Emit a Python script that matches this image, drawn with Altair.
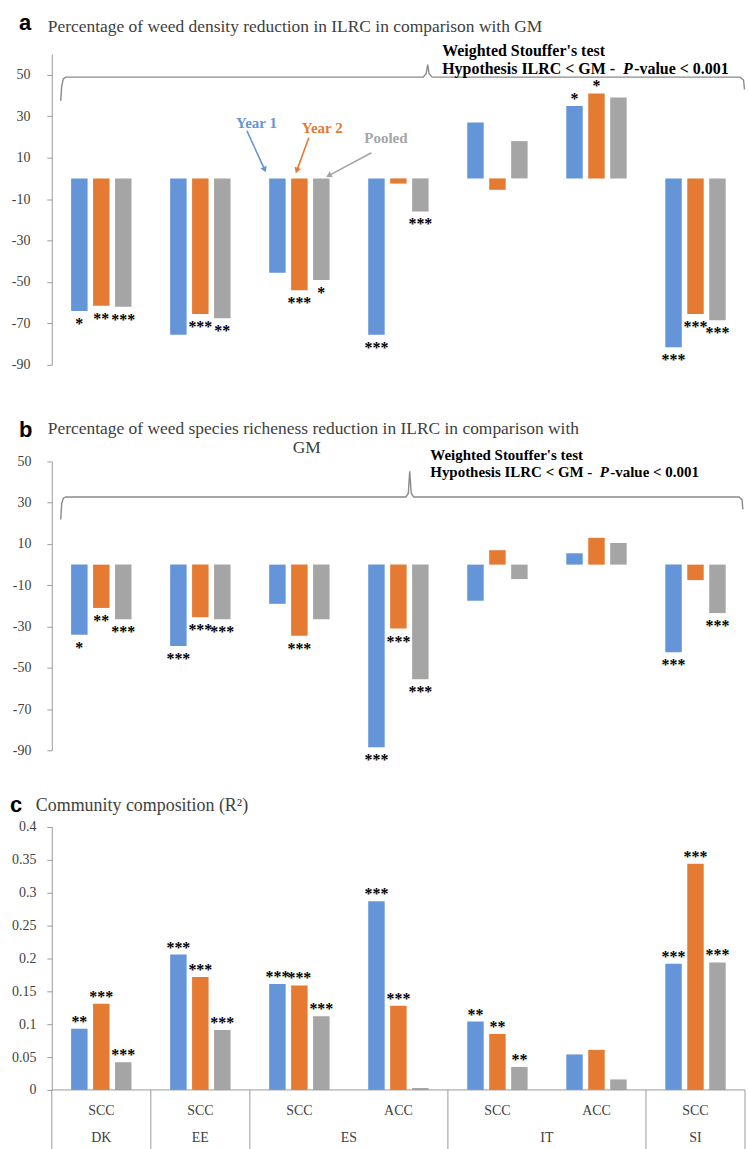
import math

import altair as alt
import pandas as pd

# ---------------------------------------------------------------- categories
countries = ["DK", "EE", "ES", "ES", "IT", "IT", "SI"]
crops = ["SCC", "SCC", "SCC", "ACC", "SCC", "ACC", "SCC"]
series = ["Year 1", "Year 2", "Pooled"]
series_colors = ["#6495D8", "#E57A33", "#A5A5A5"]

# ------------------------------------- a: weed density reduction (%) vs GM
density_year1 = [-64.0, -75.5, -45.5, -75.5, 27.0, 35.0, -81.5]
density_year2 = [-61.5, -65.5, -54.0, -2.5, -5.5, 41.0, -65.5]
density_pooled = [-62.0, -67.5, -49.0, -16.0, 18.0, 39.0, -68.5]
density_sig_year1 = ["*", "", "", "***", "", "*", "***"]
density_sig_year2 = ["**", "***", "***", "", "", "*", "***"]
density_sig_pooled = ["***", "**", "*", "***", "", "", "***"]

# ---------------------------- b: weed species richness reduction (%) vs GM
richness_year1 = [-34.0, -39.5, -19.0, -88.5, -17.5, 5.5, -42.5]
richness_year2 = [-21.0, -25.5, -34.5, -31.0, 7.0, 13.0, -7.5]
richness_pooled = [-26.5, -26.5, -26.5, -55.5, -7.0, 10.5, -23.5]
richness_sig_year1 = ["*", "***", "", "***", "", "", "***"]
richness_sig_year2 = ["**", "***", "***", "***", "", "", ""]
richness_sig_pooled = ["***", "***", "", "***", "", "", "***"]

# ------------------------------------------ c: community composition (R2)
composition_year1 = [0.093, 0.206, 0.161, 0.287, 0.104, 0.054, 0.192]
composition_year2 = [0.131, 0.172, 0.159, 0.128, 0.085, 0.061, 0.344]
composition_pooled = [0.042, 0.091, 0.112, 0.003, 0.035, 0.016, 0.194]
composition_sig_year1 = ["**", "***", "***", "***", "**", "", "***"]
composition_sig_year2 = ["***", "***", "***", "***", "**", "", "***"]
composition_sig_pooled = ["***", "***", "***", "", "**", "", "***"]

# axis ticks
pct_ticks = [50, 30, 10, -10, -30, -50, -70, -90]
r2_ticks = [0, 0.05, 0.1, 0.15, 0.2, 0.25, 0.3, 0.35, 0.4]

# brace outlines, in (category units, value units)
brace_a_u = [0.09, 0.10, 0.116, 0.14, 3.75, 3.78, 3.796, 3.81, 3.84, 6.95, 6.985, 6.995]
brace_a_y = [37.4, 44.6, 48.0, 48.9, 48.9, 50.5, 54.9, 50.5, 48.9, 48.9, 47.5, 43.0]
brace_b_u = [0.09, 0.10, 0.116, 0.14, 3.575, 3.60, 3.614, 3.63, 3.655, 6.94, 6.97, 6.978]
brace_b_y = [21.9, 29.5, 32.2, 32.8, 32.8, 34.5, 45.2, 34.5, 32.8, 32.8, 31.5, 26.8]

# "Year 1 / Year 2 / Pooled" call-outs in panel a
callout_text = ["Year 1", "Year 2", "Pooled"]
callout_colors = ["#4169B0", "#E0783A", "#808080"]
callout_u = [2.067, 2.731, 3.374]
callout_y = [26.8, 24.4, 19.6]
arrow_u1 = [1.97, 2.595, 3.228]
arrow_y1 = [23.0, 19.6, 12.4]
arrow_u2 = [2.15, 2.474, 2.796]
arrow_y2 = [4.2, 3.75, 1.35]

# ------------------------------------------------------------------ styling
SERIF = "Liberation Serif"
SANS = "Liberation Sans"
AXIS_GREY = "#9a9a9a"
TEXT_GREY = "#404040"
TITLE_SIZE = 17.5
W = 696                      # plot width shared by the three panels
N = len(countries)
PX_PER_UNIT = W / N

keys = [f"{c} {k}" for c, k in zip(countries, crops)]


def long_table(vals, sigs):
    rows = []
    for name, v_list, s_list in zip(series, vals, sigs):
        for key, crop, v, s in zip(keys, crops, v_list, s_list):
            rows.append({"key": key, "crop": crop, "series": name, "value": v, "sig": s})
    return pd.DataFrame(rows)


def x_band():
    return alt.X("key:N", sort=keys,
                 scale=alt.Scale(domain=keys, paddingInner=0, paddingOuter=0), axis=None)


def x_offset():
    return alt.XOffset("series:N", sort=series,
                       scale=alt.Scale(domain=series, paddingInner=0.25, paddingOuter=0.88))


def x_units(field="u"):
    return alt.X(f"{field}:Q", scale=alt.Scale(domain=[0, N], nice=False, zero=False), axis=None)


def y_scale(domain, plot_h):
    return alt.Scale(domain=domain, range=[plot_h, 0], nice=False, zero=False)


def text_at(text, x, y, **style):
    return alt.Chart(pd.DataFrame({"t": [text]})).mark_text(**style).encode(
        x=alt.value(x), y=alt.value(y), text="t:N")


def stouffer_note(x, y_top, y_bottom, size):
    """Two bold lines with an italic P, placed piece by piece."""
    bold = dict(font=SERIF, fontSize=size, fontWeight="bold", align="left", color="black")
    w_hyp = 11.348 * size          # "Hypothesis ILRC < GM -  " in em of Times-like bold
    w_p = 0.667 * size
    return [
        text_at("Weighted Stouffer's test", x, y_top, **bold),
        text_at("Hypothesis ILRC < GM -", x, y_bottom, **bold),
        text_at("P", x + w_hyp, y_bottom, fontStyle="italic", **bold),
        text_at("-value < 0.001", x + w_hyp + w_p + 0.5, y_bottom, **bold),
    ]


def bar_panel(table, domain, plot_h, ticks, label_expr, label_pad):
    ys = y_scale(domain, plot_h)
    base = alt.Chart(table)
    bars = base.mark_bar().encode(
        x=x_band(), xOffset=x_offset(),
        y=alt.Y("value:Q", scale=ys, title=None,
                axis=alt.Axis(values=ticks, labelExpr=label_expr, grid=False,
                              domainColor=AXIS_GREY, tickColor=AXIS_GREY, tickSize=5,
                              labelFont=SERIF, labelFontSize=14, labelColor=TEXT_GREY,
                              labelPadding=label_pad, labelOverlap=False)),
        color=alt.Color("series:N", sort=series,
                        scale=alt.Scale(domain=series, range=series_colors), legend=None),
    )
    star_style = dict(font=SERIF, fontSize=16, fontWeight="bold", color="black",
                      baseline="alphabetic")
    stars_neg = base.transform_filter("datum.sig != '' && datum.value < 0").mark_text(
        dy=18, **star_style).encode(
        x=x_band(), xOffset=x_offset(),
        y=alt.Y("value:Q", scale=ys, axis=None), text="sig:N")
    stars_pos = base.transform_filter("datum.sig != '' && datum.value >= 0").mark_text(
        dy=-2, **star_style).encode(
        x=x_band(), xOffset=x_offset(),
        y=alt.Y("value:Q", scale=ys, axis=None), text="sig:N")
    return [bars, stars_neg, stars_pos]


def brace(us, ys_, domain, plot_h):
    df = pd.DataFrame({"u": us, "y": ys_, "i": list(range(len(us)))})
    return alt.Chart(df).mark_line(color="#8a8a8a", strokeWidth=1.4).encode(
        x=x_units(), y=alt.Y("y:Q", scale=y_scale(domain, plot_h), axis=None),
        order="i:Q")


pct_label = "datum.value < 0 ? '-' + abs(datum.value) : '' + datum.value"

# ================================================================ panel a
A_DOMAIN, A_H = [-90, 60], 312
table_a = long_table([density_year1, density_year2, density_pooled],
                     [density_sig_year1, density_sig_year2, density_sig_pooled])
layers_a = bar_panel(table_a, A_DOMAIN, A_H, pct_ticks, pct_label, 17)
layers_a.append(brace(brace_a_u, brace_a_y, A_DOMAIN, A_H))

# call-out arrows
a_px_per_val = A_H / (A_DOMAIN[1] - A_DOMAIN[0])
arrow_angle = []
for u1, y1, u2, y2 in zip(arrow_u1, arrow_y1, arrow_u2, arrow_y2):
    dx = (u2 - u1) * PX_PER_UNIT
    dy = -(y2 - y1) * a_px_per_val
    arrow_angle.append(math.degrees(math.atan2(dx, -dy)) % 360)
arrows = pd.DataFrame({"name": callout_text, "u": arrow_u1, "y": arrow_y1,
                       "u2": arrow_u2, "y2": arrow_y2, "angle": arrow_angle,
                       "lu": callout_u, "ly": callout_y})
call_color = alt.Color("name:N", sort=callout_text,
                       scale=alt.Scale(domain=callout_text, range=callout_colors), legend=None)
ya = y_scale(A_DOMAIN, A_H)
layers_a.append(alt.Chart(arrows).mark_rule(strokeWidth=1.6).encode(
    x=x_units(), x2="u2:Q", y=alt.Y("y:Q", scale=ya, axis=None), y2="y2:Q", color=call_color))
layers_a.append(alt.Chart(arrows).mark_point(shape="triangle-up", filled=True, size=45,
                                             opacity=1).encode(
    x=x_units("u2"), y=alt.Y("y2:Q", scale=ya, axis=None),
    angle=alt.Angle("angle:Q", scale=None), color=call_color))
layers_a.append(alt.Chart(arrows).mark_text(font=SERIF, fontSize=15, fontWeight="bold",
                                            baseline="middle").encode(
    x=x_units("lu"), y=alt.Y("ly:Q", scale=ya, axis=None), text="name:N", color=call_color))

layers_a += [
    text_at("a", -33, -31, font=SANS, fontSize=22, fontWeight="bold", align="left", color="black"),
    text_at("Percentage of weed density reduction in ILRC in comparison with  GM", -4, -27,
            font=SERIF, fontSize=TITLE_SIZE, align="left", color=TEXT_GREY),
] + stouffer_note(392, -3, 15, 16)
panel_a = alt.layer(*layers_a).resolve_scale(x="independent", y="independent").properties(
    width=W, height=A_H + 20)

# ================================================================ panel b
B_DOMAIN, B_H = [-90, 50], 290
table_b = long_table([richness_year1, richness_year2, richness_pooled],
                     [richness_sig_year1, richness_sig_year2, richness_sig_pooled])
layers_b = bar_panel(table_b, B_DOMAIN, B_H, pct_ticks, pct_label, 16)
layers_b.append(brace(brace_b_u, brace_b_y, B_DOMAIN, B_H))
layers_b += [
    text_at("b", -33, -32, font=SANS, fontSize=22, fontWeight="bold", align="left", color="black"),
    text_at("Percentage of weed species richeness reduction in ILRC in comparison with", -4, -33,
            font=SERIF, fontSize=TITLE_SIZE, align="left", color=TEXT_GREY),
    text_at("GM", 256, -13, font=SERIF, fontSize=TITLE_SIZE, align="center", color=TEXT_GREY),
] + stouffer_note(380, -6, 11, 15)
panel_b = alt.layer(*layers_b).resolve_scale(x="independent", y="independent").properties(
    width=W, height=B_H)

# ================================================================ panel c
C_DOMAIN, C_H = [0, 0.4], 264
table_c = long_table([composition_year1, composition_year2, composition_pooled],
                     [composition_sig_year1, composition_sig_year2, composition_sig_pooled])
layers_c = bar_panel(table_c, C_DOMAIN, C_H, r2_ticks, "'' + datum.value", 11)

# two-level category axis: crop row, country row, separators between countries
crop_table = pd.DataFrame({"key": keys, "crop": crops})
country_order = list(dict.fromkeys(countries))
country_pos = [sum(i + 0.5 for i, c in enumerate(countries) if c == cc) / countries.count(cc)
               for cc in country_order]
bounds = [0]
for cc in country_order:
    bounds.append(bounds[-1] + countries.count(cc))
country_table = pd.DataFrame({"country": country_order, "u": country_pos})
sep_table = pd.DataFrame({"u": bounds})
base_line = pd.DataFrame({"u": [0], "u2": [N]})

layers_c += [
    alt.Chart(base_line).mark_rule(color=AXIS_GREY, strokeWidth=1).encode(
        x=x_units(), x2="u2:Q", y=alt.value(C_H)),
    alt.Chart(sep_table).mark_rule(color=AXIS_GREY, strokeWidth=1).encode(
        x=x_units(), y=alt.value(C_H), y2=alt.value(C_H + 62)),
    alt.Chart(crop_table).mark_text(font=SERIF, fontSize=14, color=TEXT_GREY,
                                    baseline="middle").encode(
        x=x_band(), y=alt.value(C_H + 21), text="crop:N"),
    alt.Chart(country_table).mark_text(font=SERIF, fontSize=14, color=TEXT_GREY,
                                       baseline="middle").encode(
        x=x_units(), y=alt.value(C_H + 48), text="country:N"),
    text_at("c", -42, -22, font=SANS, fontSize=22, fontWeight="bold", align="left", color="black"),
    text_at("Community composition (R²)", -16, -21, font=SERIF, fontSize=TITLE_SIZE + 0.5,
            align="left", color=TEXT_GREY),
]
panel_c = alt.layer(*layers_c).resolve_scale(x="independent", y="independent").properties(
    width=W, height=C_H)

chart = alt.vconcat(panel_a, panel_b, panel_c, spacing=77, bounds="flush").configure_view(
    stroke=None).properties(
    padding={"left": 10, "top": 10, "right": 0, "bottom": 0}, background="white")

chart.save("out.html", embed_options={"renderer": "svg", "actions": False})
